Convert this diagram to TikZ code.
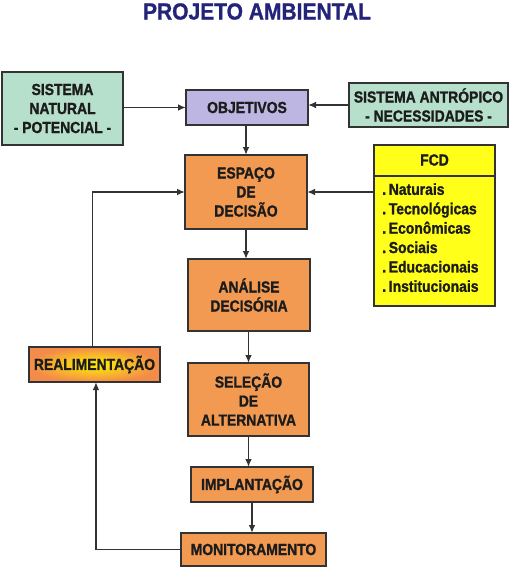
\documentclass[tikz,border=0pt]{standalone}
\usepackage{fontspec}
\setmainfont{Liberation Sans}[FakeStretch=0.87,BoldFeatures={FakeBold=1.2}]
\newfontfamily\titlefont{Liberation Sans}[FakeStretch=0.9,BoldFeatures={FakeBold=1}]
\usetikzlibrary{arrows.meta}
\definecolor{greenbox}{HTML}{B6E0CB}
\definecolor{lavbox}{HTML}{BEB6E2}
\definecolor{orangebox}{HTML}{F29A52}
\definecolor{yellowbox}{HTML}{FFFF1A}
\definecolor{navy}{HTML}{23237A}
\definecolor{edge}{HTML}{333333}
\definecolor{ink}{HTML}{1C1C1C}
\begin{document}
\begin{tikzpicture}[x=0.75pt,y=-0.75pt,
  box/.style={draw=edge,line width=1.2pt,inner sep=0pt,outer sep=0pt,align=center,
    text=ink,font=\bfseries\fontsize{12pt}{14.25pt}\selectfont},
  greenb/.style={box,fill=greenbox},
  lavb/.style={box,fill=lavbox},
  orangeb/.style={box,fill=orangebox},
  arr/.style={draw=edge,line width=1.2pt,-{Latex[length=6pt,width=5pt]}}]
\useasboundingbox (0,0) rectangle (512,569);
\node[font=\titlefont\bfseries\fontsize{17.5pt}{20pt}\selectfont,text=navy] (title) at (257,11.5) {PROJETO AMBIENTAL};
\node[greenb,minimum width=90.75pt,minimum height=54.75pt] (nat) at (62.5,108.5) {SISTEMA\\NATURAL\\- POTENCIAL -};
\node[lavb,minimum width=91.5pt,minimum height=26.25pt] (obj) at (247,107.5) {OBJETIVOS};
\node[greenb,minimum width=119.25pt,minimum height=33pt] (ant) at (428.5,105) {SISTEMA ANTRÓPICO\\- NECESSIDADES -};
\node[orangeb,minimum width=91.5pt,minimum height=55.5pt] (esp) at (246,192) {ESPAÇO\\DE\\DECISÃO};
\node[box,fill=yellowbox,minimum width=90.75pt,minimum height=120.75pt] (fcd) at (434.5,225.5) {};
\draw[draw=edge,line width=1.2pt] (fcd.north west) ++(0,31) coordinate (hl) -- (hl -| fcd.east);
\node[font=\bfseries\fontsize{12pt}{14.25pt}\selectfont,text=ink] (fcdt) at (434.5,160) {FCD};
\node[anchor=north west,align=left,inner sep=0pt,text=ink,
  font=\bfseries\fontsize{12pt}{14.55pt}\selectfont] (fcdl) at (382,183)
  {.\,Naturais\\.\,Tecnológicas\\.\,Econômicas\\.\,Sociais\\.\,Educacionais\\.\,Institucionais};
\node[orangeb,minimum width=91.5pt,minimum height=54pt] (ana) at (249,295) {ANÁLISE\\DECISÓRIA};
\node[orangeb,minimum width=90.75pt,minimum height=54.75pt] (sel) at (248.5,399.5) {SELEÇÃO\\DE\\ALTERNATIVA};
\node[orangeb,minimum width=91.5pt,minimum height=26.25pt] (imp) at (252,484.5) {IMPLANTAÇÃO};
\node[orangeb,minimum width=108.75pt,minimum height=24.75pt] (mon) at (253.5,549.5) {MONITORAMENTO};
\node[box,minimum width=98.25pt,minimum height=26.25pt,
  inner color=yellow!90!orange,outer color=orangebox!90!red] (rea) at (94.5,364.5) {REALIMENTAÇÃO};
\draw[arr] (nat.east |- obj.west) -- (obj.west);
\draw[arr] (ant.west) -- (ant.west -| obj.east);
\draw[arr] (obj.south -| esp.north) -- (esp.north);
\draw[arr] (fcd.west |- esp.east) -- (esp.east);
\draw[arr] (esp.south) -- (esp.south |- ana.north);
\draw[arr] (ana.south -| sel.north) -- (sel.north);
\draw[arr] (sel.south) -- (sel.south |- imp.north);
\draw[arr] (imp.south) -- (imp.south |- mon.north);
\coordinate (fb1) at ([xshift=1.1pt]rea.south);
\draw[arr] (mon.west) -| (fb1);
\coordinate (fb2) at ([xshift=-1.5pt]rea.north);
\draw[arr] (fb2) |- (esp.west);
\end{tikzpicture}
\end{document}
